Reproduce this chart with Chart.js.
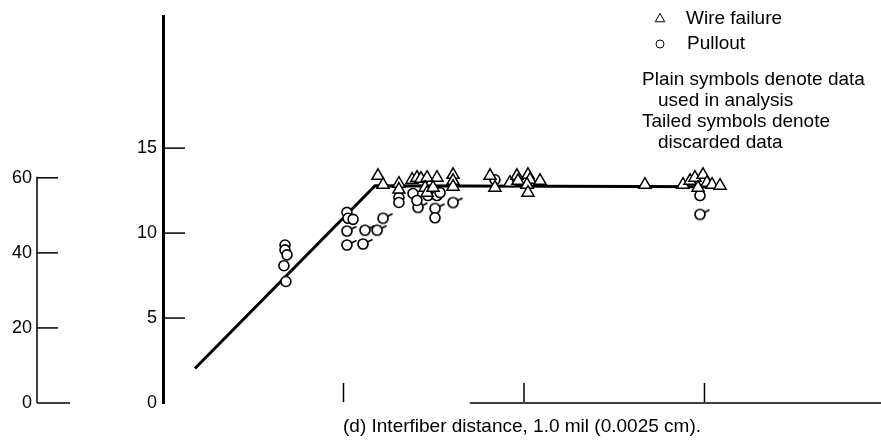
<!DOCTYPE html>
<html><head><meta charset="utf-8">
<script src="https://cdn.jsdelivr.net/npm/chart.js@4/dist/chart.umd.min.js"></script>
<style>html,body{margin:0;padding:0;background:#fff;}canvas{display:block;}</style>
</head><body>
<canvas id="c" width="881" height="444"></canvas>
<script>
// ---- data ----
const yTicks = [0, 5, 10, 15];
const y2Ticks = [0, 20, 40, 60];
const xTicks = [1, 2, 3];
const xTitle = '(d) Interfiber distance, 1.0 mil (0.0025 cm).';
const legendLabels = ['Wire failure', 'Pullout'];
const noteLines = ['Plain symbols denote data', 'used in analysis', 'Tailed symbols denote', 'discarded data'];

// wire failure (triangles)
const wireX = [1.191,1.219,1.307,1.307,1.380,1.407,1.429,1.463,1.518,1.452,1.463,1.496,1.607,1.607,1.607,
               1.812,1.839,1.922,1.961,1.967,2.022,2.033,2.017,2.022,2.089,
               2.670,2.881,2.920,2.947,2.992,3.014,2.964,3.042,3.086];
const wireY = [13.37,12.85,12.91,12.56,13.14,13.26,13.20,13.26,13.26,12.67,12.38,12.67,13.43,13.08,12.73,
               13.37,12.67,12.97,13.37,13.08,13.43,13.14,12.85,12.38,13.08,
               12.85,12.85,13.08,13.26,13.43,12.97,12.67,12.85,12.79];
// pullout, used (plain circles)
const pullX = [0.676,0.676,0.687,0.670,0.681,1.019,1.025,1.053,1.307,1.307,1.385,1.407,1.468,1.518,1.535,1.507,1.839,2.975];
const pullY = [9.30,9.01,8.72,8.08,7.15,11.22,10.87,10.81,12.09,11.80,12.33,11.92,12.21,12.21,12.38,10.90,13.14,12.21];
// pullout, discarded (tailed circles)
const tailX = [1.019,1.119,1.186,1.019,1.108,1.219,1.413,1.507,1.607,2.975];
const tailY = [10.12,10.17,10.17,9.30,9.36,10.87,11.51,11.45,11.80,11.10];
// fitted line
const lineX = [0.177, 1.175, 3.114];
const lineY = [2.03, 12.79, 12.73];

const FONT = '"Liberation Sans", Arial, sans-serif';
const pts = (xs, ys) => xs.map((x, i) => ({x, y: ys[i]}));

// tailed circle marker
function tailedMarker() {
  const c = document.createElement('canvas');
  c.width = 24; c.height = 24;
  const g = c.getContext('2d');
  g.lineWidth = 1.7; g.strokeStyle = '#000'; g.fillStyle = '#fff';
  g.beginPath(); g.arc(12, 12, 5, 0, Math.PI * 2); g.fill(); g.stroke();
  g.beginPath(); g.moveTo(16.5, 10); g.lineTo(21.5, 7.5); g.stroke();
  return c;
}

const decor = {
  id: 'decor',
  beforeDatasetsDraw(chart) {
    const {ctx, scales: {x, y, y2}} = chart;
    ctx.save();
    ctx.strokeStyle = '#000';
    const seg = (a, b, c, d, w) => { ctx.lineWidth = w; ctx.beginPath(); ctx.moveTo(a, b); ctx.lineTo(c, d); ctx.stroke(); };
    // secondary (left) axis line and inward ticks
    const ax2 = y2.right;
    seg(ax2, y2.getPixelForValue(0), ax2, y2.getPixelForValue(60) - 1, 1.5);
    y2Ticks.forEach(v => { const p = y2.getPixelForValue(v); seg(ax2, p, ax2 + (v === 0 ? 33 : 21), p, 1.5); });
    // main axis inward ticks
    yTicks.filter(v => v > 0).forEach(v => { const p = y.getPixelForValue(v); seg(y.right, p, y.right + 22, p, 1.5); });
    // x axis line and upward ticks
    const base = y.getPixelForValue(0);
    seg(x.getPixelForValue(1.70), base, x.right, base, 1.5);
    xTicks.forEach(v => { const p = x.getPixelForValue(v); seg(p, base - 1, p, base - 20, 1.5); });
    ctx.restore();
  },
  afterDraw(chart) {
    const {ctx} = chart;
    ctx.save();
    ctx.strokeStyle = '#000';
    const h = Chart.helpers;
    ctx.fillStyle = '#fff';
    h.drawPoint(ctx, {pointStyle: 'triangle', radius: 5.5, borderWidth: 1.5}, 660, 19);
    h.drawPoint(ctx, {pointStyle: 'circle', radius: 4, borderWidth: 1.5}, 660, 44);
    ctx.fillStyle = '#000';
    ctx.textBaseline = 'middle'; ctx.textAlign = 'left';
    ctx.font = '19px ' + FONT;
    ctx.fillText(legendLabels[0], 686, 19);
    ctx.fillText(legendLabels[1], 687, 44);
    const nx = [642, 658, 642, 658], ny = [80, 101, 122, 143];
    noteLines.forEach((t, i) => ctx.fillText(t, nx[i], ny[i]));
    ctx.restore();
  }
};

const ticksFrom = arr => function (s) { s.ticks = arr.map(v => ({value: v})); };

new Chart(document.getElementById('c'), {
  type: 'scatter',
  data: {
    datasets: [
      {label: 'Wire failure', data: pts(wireX, wireY), pointStyle: 'triangle', pointRadius: 7,
       borderColor: '#000', backgroundColor: '#fff', borderWidth: 1.5, yAxisID: 'y'},
      {label: 'Pullout', data: pts(pullX, pullY), pointStyle: 'circle', pointRadius: 5,
       borderColor: '#000', backgroundColor: '#fff', borderWidth: 1.6, yAxisID: 'y'},
      {label: 'Pullout (discarded)', data: pts(tailX, tailY), pointStyle: tailedMarker(), pointRadius: 5,
       borderColor: '#000', backgroundColor: '#fff', yAxisID: 'y'},
      {label: 'fit', data: pts(lineX, lineY), showLine: true, pointRadius: 0, borderColor: '#000',
       borderWidth: 3, yAxisID: 'y', borderCapStyle: 'butt', borderJoinStyle: 'miter'}
    ]
  },
  options: {
    responsive: false, animation: false, events: [],
    devicePixelRatio: 1,
    layout: {autoPadding: false, padding: {top: 12, left: 0, right: 0, bottom: 0}},
    plugins: {legend: {display: false}, tooltip: {enabled: false}},
    scales: {
      x: {type: 'linear', position: 'bottom', min: 0, max: 3.978,
          grid: {display: false, drawTicks: false}, border: {display: false}, ticks: {display: false},
          title: {display: true, text: xTitle, color: '#000', font: {family: FONT, size: 19}, padding: {top: 0, bottom: 6}},
          afterBuildTicks: ticksFrom(xTicks), afterFit(s) { s.height = 41; }},
      y: {type: 'linear', position: 'left', weight: 0, min: 0, max: 22.73,
          grid: {display: false, drawTicks: false}, border: {display: true, color: '#000', width: 3},
          ticks: {color: '#000', font: {family: FONT, size: 18}, padding: 6},
          afterBuildTicks: ticksFrom(yTicks), afterFit(s) { s.width = 126; }},
      y2: {type: 'linear', position: 'left', weight: 10, min: 0, max: 102.9,
          grid: {display: false, drawTicks: false}, border: {display: false},
          ticks: {color: '#000', font: {family: FONT, size: 18}, padding: 5},
          afterBuildTicks: ticksFrom(y2Ticks), afterFit(s) { s.width = 37; }}
    }
  },
  plugins: [decor]
});
</script>
</body></html>
